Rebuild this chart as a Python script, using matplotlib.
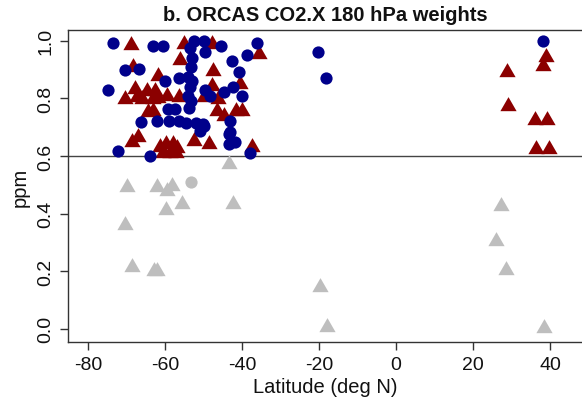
import numpy as np
import matplotlib
matplotlib.use("Agg")
import matplotlib.pyplot as plt

plt.rcParams['font.family'] = ['Liberation Sans', 'DejaVu Sans']
plt.rcParams['axes.unicode_minus'] = False

# profiles used (blue circles): latitude, weight
lat_used = [-73.6, -63.0, -60.6, -52.6, -50.0, -45.5, -36.2, -38.8, -49.6,
            -53.5, -53.0, -53.3, -54.0, -53.0, -53.5, -54.0, -53.3, -53.8,
            -42.7, -70.4, -66.7, -40.8, -60.0, -56.5, -74.7, -44.8, -42.3,
            -40.1, -49.5, -48.2, -59.1, -57.4, -66.3, -62.2, -59.0, -56.5,
            -54.6, -52.0, -50.2, -50.9, -50.0, -43.1, -43.1, -43.5, -43.5,
            -41.8, -72.3, -63.9, -37.9, -20.2, -18.2, 38.3]
ppm_used = [0.991, 0.983, 0.983, 1.000, 1.000, 0.981, 0.992, 0.951, 0.960,
            0.975, 0.940, 0.910, 0.875, 0.860, 0.840, 0.810, 0.790, 0.765,
            0.929, 0.900, 0.902, 0.893, 0.861, 0.870, 0.829, 0.821, 0.838,
            0.810, 0.830, 0.810, 0.763, 0.763, 0.719, 0.723, 0.720, 0.720,
            0.715, 0.715, 0.710, 0.688, 0.705, 0.723, 0.682, 0.676, 0.640,
            0.647, 0.618, 0.601, 0.610, 0.960, 0.870, 1.000]

# profiles used (red triangles)
lat_tri = [-68.9, -55.2, -47.9, -35.5, -56.1, -68.2, -47.5, -61.7, -67.8,
           -64.8, -62.6, -70.4, -67.4, -66.0, -63.0, -61.7, -59.6, -56.5,
           -47.9, -50.0, -46.2, -40.5, -64.3, -63.0, -46.6, -44.8, -41.6,
           -39.9, -66.9, -68.6, -61.4, -59.7, -58.0, -56.9, -60.5, -58.8,
           -57.1, -52.6, -48.7, -37.5,
           28.9, 29.0, 39.0, 38.1, 36.0, 39.1, 36.4, 39.8]
ppm_tri = [0.985, 0.989, 0.989, 0.954, 0.934, 0.908, 0.896, 0.879, 0.833,
           0.827, 0.827, 0.798, 0.804, 0.798, 0.798, 0.800, 0.810, 0.805,
           0.844, 0.804, 0.798, 0.850, 0.752, 0.757, 0.757, 0.740, 0.757,
           0.757, 0.665, 0.648, 0.630, 0.640, 0.640, 0.628, 0.610, 0.610,
           0.610, 0.653, 0.642, 0.630,
           0.893, 0.775, 0.943, 0.914, 0.726, 0.726, 0.624, 0.624]

# profiles below the cutoff (grey)
lat_rej_tri = [-69.9, -62.0, -58.3, -59.5, -55.7, -59.7, -42.4, -43.4, -70.4,
               -68.6, -62.8, -62.0, -19.7, -18.0, 27.3, 26.0, 28.5, 38.4]
ppm_rej_tri = [0.491, 0.491, 0.495, 0.480, 0.433, 0.414, 0.433, 0.572, 0.360,
               0.213, 0.202, 0.202, 0.144, 0.005, 0.427, 0.306, 0.205, 0.003]
lat_rej_circ = [-53.3]
ppm_rej_circ = [0.511]

cutoff = 0.6

# R style solid triangle
tri = [(-1, -0.577), (1, -0.577), (0, 1.155), (-1, -0.577)]

fig = plt.figure(figsize=(5.82, 4.06), dpi=100)
ax = fig.add_axes([68 / 582, 1 - 343 / 406, 514 / 582, 312 / 406])

grey = '#bebebe'
ax.plot(lat_rej_tri, ppm_rej_tri, ls='none', marker=tri, ms=13.5, mew=0, color=grey)
ax.plot(lat_rej_circ, ppm_rej_circ, ls='none', marker='o', ms=8.8, mew=0, color=grey)
ax.plot(lat_tri, ppm_tri, ls='none', marker=tri, ms=13.5, mew=0, color='#8b0000')
ax.plot(lat_used, ppm_used, ls='none', marker='o', ms=8.8, mew=0, color='#00008b')

ax.axhline(cutoff, color='#444444', lw=1.0, zorder=0)

ax.set_xlim(-85.2, 48.3)
ax.set_ylim(-0.046, 1.0375)
ax.set_xticks(np.arange(-80, 41, 20))
ax.set_yticks(np.arange(0, 1.01, 0.2))
ax.set_yticklabels(['%.1f' % v for v in np.arange(0, 1.01, 0.2)],
                   rotation=90, va='center')

for s in ['left', 'bottom', 'top']:
    ax.spines[s].set_color('#333333')
    ax.spines[s].set_linewidth(1.0)
ax.spines['right'].set_visible(False)

ax.tick_params(axis='both', length=6, width=1.0, color='#333333',
               labelsize=14, labelcolor='#111111')
ax.tick_params(axis='x', pad=4)
ax.tick_params(axis='y', pad=4)

ax.set_xlabel('Latitude (deg N)', fontsize=14.5, color='#111111', labelpad=3)
ax.set_ylabel('ppm', fontsize=14.5, color='#111111', labelpad=5)
ax.set_title('b. ORCAS CO2.X 180 hPa weights', fontsize=14.5,
             fontweight='bold', color='#111111', pad=7)

fig.savefig('out.png', dpi=100)
